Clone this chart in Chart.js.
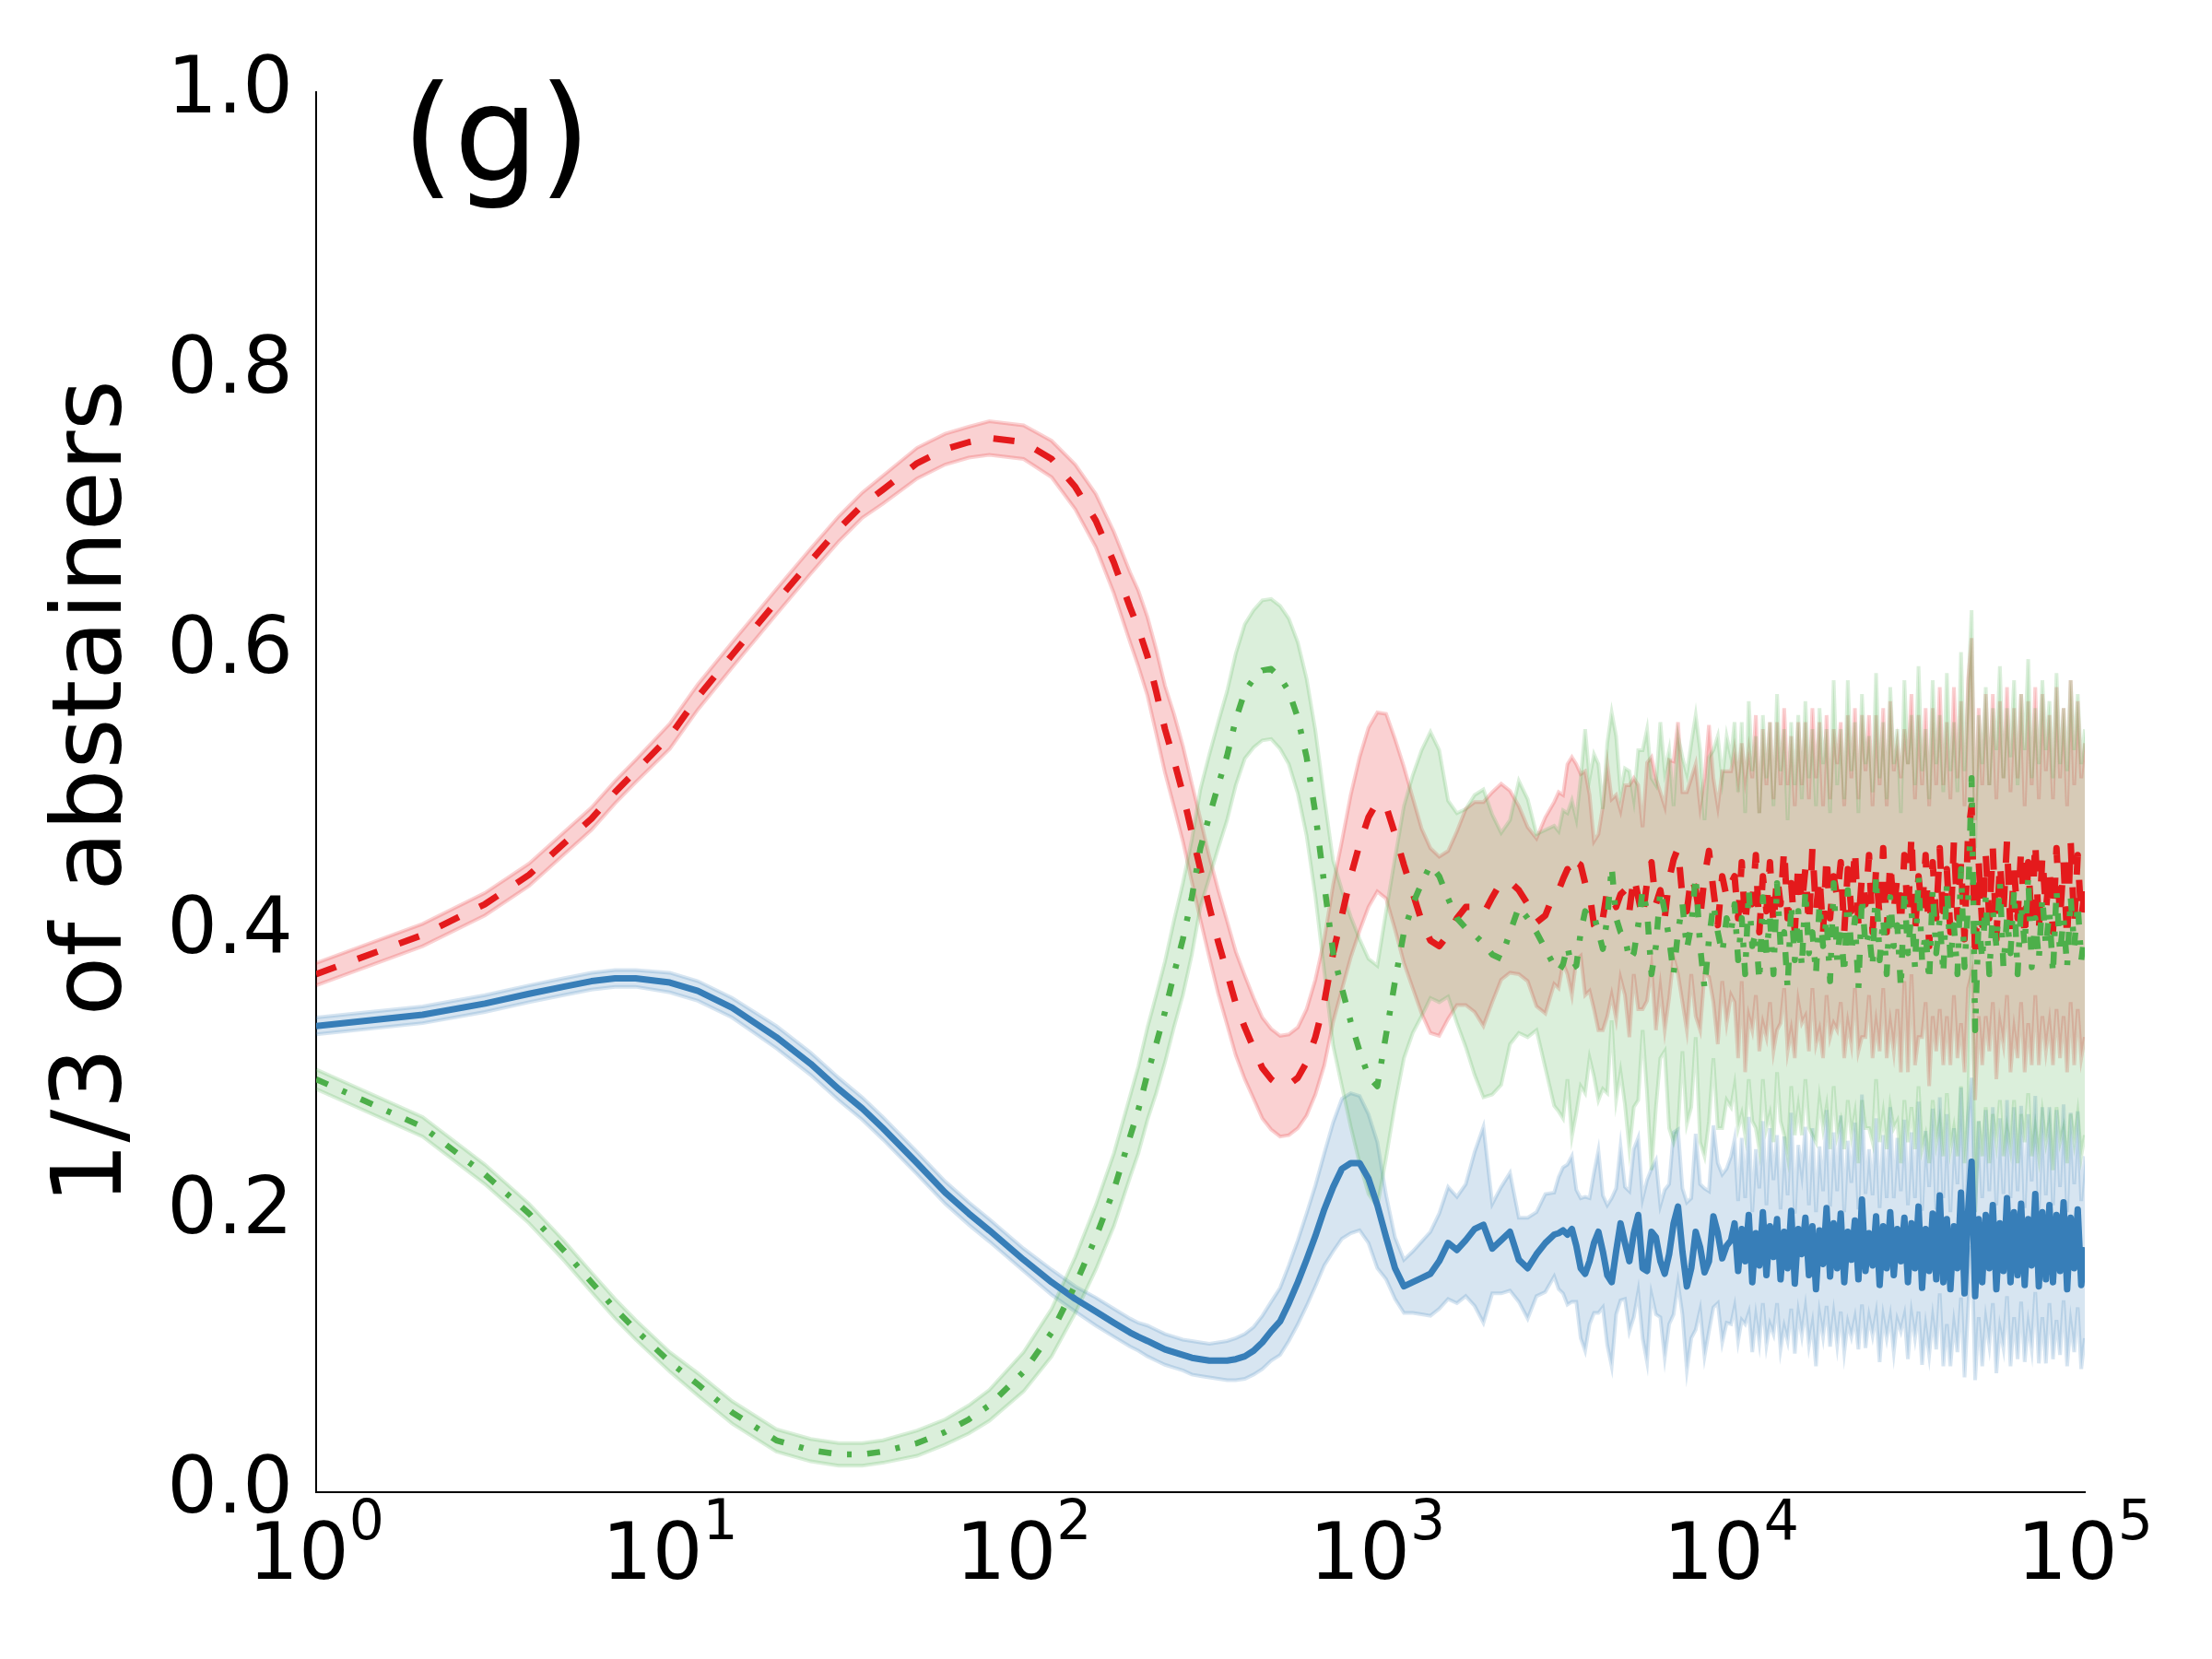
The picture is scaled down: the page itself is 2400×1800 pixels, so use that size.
<!DOCTYPE html>
<html lang="en">
<head>
  <meta charset="UTF-8">
  <title>1/3 of abstainers (g)</title>
  <style>
    body { margin: 0; background: #fff; }
    #wrap { width: 2400px; height: 1800px; }
  </style>
</head>
<body>
  <div id="wrap"><canvas id="chart" width="2400" height="1800"></canvas></div>

  <script src="https://cdn.jsdelivr.net/npm/chart.js"></script>
  <script>
    // time steps (x, log scale)
    const steps = [
      1, 2, 3, 4, 5, 6, 7, 8, 10, 12, 15, 20, 25, 30, 35, 40, 50, 60, 70, 80, 100, 120, 140, 160, 180,
      200, 211, 224, 237, 251, 266, 282, 299, 316, 335, 355, 376, 398, 422, 447, 473, 501, 531, 562, 596, 631, 668, 708, 750, 794, 841, 891, 944, 1000,
      1059, 1122, 1189, 1259, 1334, 1413, 1496, 1585, 1679, 1778, 1884, 1995, 2113, 2239, 2371, 2512, 2661, 2818, 2985, 3162,
      3255, 3350, 3447, 3548, 3652, 3758, 3868, 3981, 4097, 4217, 4340, 4467, 4597, 4732, 4870, 5012, 5158, 5309, 5464, 5623,
      5788, 5957, 6131, 6310, 6494, 6683, 6879, 7079, 7286, 7499, 7718, 7943, 8175, 8414, 8660, 8913, 9173, 9441, 9716,
      10000, 10230, 10470, 10720, 10960, 11220, 11480, 11750, 12020, 12300,
      12590, 12880, 13180, 13490, 13800, 14130, 14450, 14790, 15140, 15490,
      15850, 16220, 16600, 16980, 17380, 17780, 18200, 18620, 19050, 19500,
      19950, 20420, 20890, 21380, 21880, 22390, 22910, 23440, 23990, 24550,
      25120, 25700, 26300, 26920, 27540, 28180, 28840, 29510, 30200, 30900,
      31620, 32360, 33110, 33880, 34670, 35480, 36310, 37150, 38020, 38900,
      39810, 40740, 41690, 42660, 43650, 44670, 45710, 46770, 47860, 48980,
      50120, 51290, 52480, 53700, 54950, 56230, 57540, 58880, 60260, 61660,
      63100, 64570, 66070, 67610, 69180, 70790, 72440, 74130, 75860, 77620,
      79430, 81280, 83180, 85110, 87100, 89130, 91200, 93330, 95500, 97720,
      100000
    ];

    // blue (solid) mean and half-width of its band
    const blueMean = [
      0.333, 0.341, 0.349, 0.356, 0.361, 0.365, 0.367, 0.367, 0.364, 0.358, 0.346, 0.325, 0.306, 0.288, 0.274, 0.260, 0.235, 0.214, 0.199, 0.187, 0.166, 0.150, 0.138, 0.129, 0.121,
      0.114, 0.111, 0.108, 0.105, 0.102, 0.100, 0.098, 0.096, 0.095, 0.094, 0.094, 0.094, 0.095, 0.097, 0.101, 0.107, 0.115, 0.122, 0.135, 0.150, 0.166, 0.183, 0.202, 0.218, 0.231, 0.235, 0.235, 0.224, 0.205,
      0.182, 0.160, 0.147, 0.150, 0.153, 0.156, 0.165, 0.178, 0.173, 0.180, 0.188, 0.191, 0.174, 0.180, 0.186, 0.166, 0.160, 0.170, 0.178, 0.184,
      0.185, 0.187, 0.184, 0.188, 0.176, 0.160, 0.156, 0.165, 0.178, 0.186, 0.172, 0.155, 0.150, 0.172, 0.192, 0.178, 0.165, 0.185, 0.198, 0.160,
      0.158, 0.186, 0.182, 0.165, 0.156, 0.170, 0.192, 0.204, 0.172, 0.147, 0.160, 0.186, 0.175, 0.157, 0.165, 0.197, 0.185, 0.167, 0.176,
      0.180, 0.192, 0.158, 0.188, 0.165, 0.198, 0.150, 0.185, 0.162, 0.200,
      0.155, 0.190, 0.168, 0.195, 0.152, 0.186, 0.160, 0.201, 0.149, 0.188,
      0.170, 0.196, 0.155, 0.190, 0.145, 0.187, 0.163, 0.203, 0.154, 0.192,
      0.160, 0.199, 0.150, 0.186, 0.166, 0.194, 0.152, 0.209, 0.158, 0.185,
      0.162, 0.197, 0.148, 0.190, 0.160, 0.200, 0.155, 0.188, 0.165, 0.196,
      0.150, 0.192, 0.160, 0.204, 0.146, 0.188, 0.158, 0.199, 0.152, 0.212,
      0.150, 0.195, 0.145, 0.190, 0.160, 0.214, 0.142, 0.200, 0.236, 0.140,
      0.195, 0.150, 0.198, 0.160, 0.205, 0.145, 0.192, 0.158, 0.210, 0.150,
      0.200, 0.155, 0.206, 0.148, 0.195, 0.162, 0.213, 0.147, 0.200, 0.152,
      0.205, 0.150, 0.198, 0.158, 0.207, 0.145, 0.196, 0.160, 0.202, 0.148,
      0.175
    ];
    const blueSpread = [
      0.006, 0.006, 0.006, 0.006, 0.006, 0.006, 0.006, 0.006, 0.007, 0.007, 0.007, 0.008, 0.008, 0.008, 0.008, 0.008, 0.008, 0.008, 0.008, 0.008, 0.008, 0.009, 0.009, 0.010, 0.010,
      0.010, 0.010, 0.011, 0.011, 0.011, 0.011, 0.011, 0.012, 0.012, 0.012, 0.013, 0.014, 0.015, 0.016, 0.017, 0.019, 0.021, 0.024, 0.027, 0.030, 0.033, 0.036, 0.040, 0.046, 0.050, 0.050, 0.048, 0.046, 0.045,
      0.030, 0.022, 0.019, 0.022, 0.026, 0.030, 0.034, 0.040, 0.038, 0.040, 0.055, 0.070, 0.032, 0.038, 0.042, 0.030, 0.036, 0.030, 0.035, 0.030,
      0.040, 0.045, 0.050, 0.052, 0.040, 0.050, 0.055, 0.045, 0.050, 0.058, 0.040, 0.050, 0.060, 0.045, 0.055, 0.040, 0.050, 0.060, 0.055, 0.050,
      0.065, 0.045, 0.055, 0.040, 0.060, 0.050, 0.065, 0.055, 0.045, 0.060, 0.050, 0.070, 0.045, 0.060, 0.050, 0.065, 0.050, 0.060, 0.055,
      0.060, 0.060, 0.050, 0.065, 0.045, 0.070, 0.050, 0.060, 0.055, 0.065,
      0.050, 0.070, 0.055, 0.060, 0.050, 0.068, 0.052, 0.070, 0.050, 0.060,
      0.058, 0.065, 0.050, 0.070, 0.055, 0.060, 0.052, 0.070, 0.050, 0.065,
      0.055, 0.070, 0.050, 0.065, 0.055, 0.070, 0.050, 0.075, 0.055, 0.060,
      0.050, 0.070, 0.055, 0.065, 0.050, 0.075, 0.055, 0.065, 0.050, 0.070,
      0.055, 0.065, 0.050, 0.075, 0.055, 0.070, 0.060, 0.075, 0.050, 0.070,
      0.060, 0.075, 0.055, 0.070, 0.060, 0.075, 0.060, 0.070, 0.060, 0.060,
      0.070, 0.060, 0.075, 0.055, 0.070, 0.060, 0.075, 0.055, 0.070, 0.060,
      0.075, 0.060, 0.070, 0.055, 0.075, 0.060, 0.070, 0.055, 0.075, 0.060,
      0.070, 0.055, 0.075, 0.060, 0.070, 0.055, 0.075, 0.060, 0.070, 0.060,
      0.065
    ];

    // red (dashed)
    const redMean = [
      0.370, 0.398, 0.420, 0.441, 0.463, 0.481, 0.500, 0.515, 0.540, 0.568, 0.598, 0.636, 0.665, 0.688, 0.705, 0.716, 0.735, 0.745, 0.750, 0.753, 0.750, 0.738, 0.718, 0.694, 0.664,
      0.632, 0.617, 0.597, 0.572, 0.545, 0.523, 0.499, 0.471, 0.445, 0.418, 0.393, 0.371, 0.349, 0.332, 0.317, 0.303, 0.295, 0.290, 0.291, 0.296, 0.307, 0.325, 0.350, 0.385, 0.412, 0.440, 0.463, 0.482, 0.493,
      0.490, 0.470, 0.448, 0.428, 0.408, 0.394, 0.390, 0.398, 0.410, 0.418, 0.418, 0.413, 0.425, 0.436, 0.436, 0.430, 0.420, 0.407, 0.412, 0.428,
      0.430, 0.438, 0.445, 0.440, 0.450, 0.448, 0.435, 0.428, 0.405, 0.400, 0.410, 0.430, 0.425, 0.418, 0.427, 0.430, 0.415, 0.440, 0.425, 0.410,
      0.436, 0.450, 0.420, 0.430, 0.410, 0.438, 0.452, 0.460, 0.425, 0.415, 0.440, 0.430, 0.410, 0.440, 0.458, 0.430, 0.405, 0.440, 0.425,
      0.435, 0.440, 0.410, 0.450, 0.405, 0.435, 0.420, 0.455, 0.400, 0.440,
      0.415, 0.450, 0.405, 0.440, 0.420, 0.460, 0.410, 0.435, 0.400, 0.450,
      0.420, 0.445, 0.405, 0.460, 0.415, 0.440, 0.400, 0.455, 0.410, 0.440,
      0.425, 0.450, 0.400, 0.445, 0.415, 0.460, 0.405, 0.440, 0.420, 0.455,
      0.400, 0.445, 0.410, 0.460, 0.400, 0.450, 0.415, 0.440, 0.405, 0.455,
      0.410, 0.470, 0.400, 0.440, 0.415, 0.455, 0.390, 0.450, 0.410, 0.460,
      0.405, 0.445, 0.400, 0.465, 0.410, 0.450, 0.395, 0.470, 0.490, 0.380,
      0.450, 0.405, 0.455, 0.410, 0.460, 0.395, 0.450, 0.415, 0.465, 0.400,
      0.445, 0.410, 0.460, 0.395, 0.450, 0.405, 0.465, 0.400, 0.455, 0.415,
      0.445, 0.400, 0.460, 0.410, 0.450, 0.395, 0.465, 0.405, 0.455, 0.410,
      0.430
    ];
    const redSpread = [
      0.008, 0.008, 0.008, 0.008, 0.008, 0.008, 0.008, 0.008, 0.009, 0.009, 0.009, 0.009, 0.009, 0.009, 0.009, 0.010, 0.011, 0.011, 0.011, 0.012, 0.012, 0.013, 0.016, 0.019, 0.022,
      0.025, 0.027, 0.028, 0.030, 0.031, 0.033, 0.034, 0.035, 0.036, 0.036, 0.037, 0.037, 0.037, 0.037, 0.036, 0.036, 0.036, 0.036, 0.036, 0.036, 0.038, 0.041, 0.045, 0.049, 0.053, 0.058, 0.062, 0.064, 0.064,
      0.066, 0.068, 0.070, 0.068, 0.066, 0.066, 0.064, 0.060, 0.062, 0.070, 0.075, 0.080, 0.075, 0.070, 0.065, 0.060, 0.055, 0.060, 0.070, 0.065,
      0.070, 0.060, 0.075, 0.085, 0.070, 0.065, 0.080, 0.070, 0.060, 0.070, 0.080, 0.090, 0.070, 0.080, 0.060, 0.075, 0.090, 0.070, 0.080, 0.065,
      0.085, 0.075, 0.090, 0.070, 0.080, 0.085, 0.070, 0.090, 0.075, 0.085, 0.070, 0.090, 0.080, 0.070, 0.090, 0.080, 0.085, 0.075, 0.090,
      0.080, 0.090, 0.100, 0.085, 0.105, 0.095, 0.090, 0.100, 0.085, 0.105,
      0.090, 0.100, 0.090, 0.110, 0.085, 0.100, 0.095, 0.105, 0.090, 0.100,
      0.085, 0.105, 0.090, 0.100, 0.095, 0.110, 0.090, 0.100, 0.085, 0.105,
      0.095, 0.100, 0.090, 0.110, 0.095, 0.100, 0.090, 0.115, 0.095, 0.100,
      0.090, 0.110, 0.095, 0.100, 0.090, 0.115, 0.100, 0.095, 0.105, 0.090,
      0.110, 0.100, 0.095, 0.115, 0.090, 0.105, 0.100, 0.110, 0.095, 0.115,
      0.100, 0.105, 0.095, 0.110, 0.100, 0.115, 0.095, 0.110, 0.120, 0.100,
      0.110, 0.100, 0.115, 0.095, 0.110, 0.100, 0.115, 0.095, 0.110, 0.100,
      0.115, 0.100, 0.110, 0.095, 0.115, 0.100, 0.110, 0.095, 0.115, 0.100,
      0.110, 0.095, 0.115, 0.100, 0.110, 0.095, 0.115, 0.100, 0.110, 0.100,
      0.105
    ];

    // green (dash-dot)
    const greenMean = [
      0.295, 0.261, 0.227, 0.199, 0.173, 0.150, 0.131, 0.116, 0.093, 0.077, 0.057, 0.037, 0.030, 0.027, 0.027, 0.029, 0.035, 0.043, 0.052, 0.062, 0.086, 0.114, 0.148, 0.182, 0.216,
      0.254, 0.273, 0.299, 0.320, 0.343, 0.370, 0.395, 0.425, 0.460, 0.483, 0.505, 0.526, 0.552, 0.572, 0.581, 0.587, 0.588, 0.582, 0.572, 0.553, 0.525, 0.485, 0.434, 0.385, 0.360, 0.336, 0.315, 0.297, 0.290,
      0.327, 0.365, 0.400, 0.420, 0.435, 0.448, 0.440, 0.424, 0.410, 0.403, 0.398, 0.392, 0.384, 0.381, 0.400, 0.418, 0.410, 0.400, 0.388, 0.376,
      0.372, 0.377, 0.390, 0.374, 0.376, 0.400, 0.415, 0.410, 0.412, 0.400, 0.388, 0.410, 0.447, 0.410, 0.400, 0.397, 0.380, 0.385, 0.405, 0.430,
      0.415, 0.370, 0.390, 0.430, 0.415, 0.395, 0.370, 0.400, 0.420, 0.388, 0.405, 0.440, 0.390, 0.360, 0.395, 0.420, 0.400, 0.385, 0.410,
      0.400, 0.420, 0.380, 0.410, 0.370, 0.430, 0.390, 0.400, 0.365, 0.425,
      0.385, 0.410, 0.370, 0.435, 0.390, 0.400, 0.360, 0.420, 0.380, 0.415,
      0.375, 0.430, 0.385, 0.400, 0.370, 0.420, 0.390, 0.410, 0.365, 0.435,
      0.380, 0.405, 0.370, 0.430, 0.385, 0.410, 0.360, 0.425, 0.390, 0.400,
      0.375, 0.440, 0.380, 0.410, 0.370, 0.425, 0.390, 0.405, 0.360, 0.430,
      0.385, 0.415, 0.375, 0.440, 0.380, 0.400, 0.365, 0.430, 0.385, 0.410,
      0.370, 0.435, 0.380, 0.405, 0.370, 0.445, 0.375, 0.420, 0.510, 0.330,
      0.410, 0.380, 0.425, 0.370, 0.415, 0.390, 0.435, 0.375, 0.410, 0.385,
      0.430, 0.370, 0.420, 0.390, 0.440, 0.375, 0.410, 0.380, 0.425, 0.390,
      0.415, 0.370, 0.430, 0.385, 0.410, 0.375, 0.425, 0.390, 0.420, 0.380,
      0.400
    ];
    const greenSpread = [
      0.007, 0.007, 0.007, 0.007, 0.007, 0.007, 0.007, 0.007, 0.007, 0.008, 0.008, 0.008, 0.008, 0.008, 0.008, 0.008, 0.009, 0.009, 0.010, 0.011, 0.014, 0.017, 0.020, 0.023, 0.026,
      0.029, 0.031, 0.033, 0.035, 0.036, 0.038, 0.040, 0.041, 0.042, 0.044, 0.045, 0.046, 0.047, 0.048, 0.049, 0.050, 0.050, 0.051, 0.052, 0.054, 0.056, 0.059, 0.062, 0.066, 0.070, 0.075, 0.080, 0.084, 0.086,
      0.088, 0.088, 0.090, 0.092, 0.095, 0.095, 0.090, 0.070, 0.075, 0.085, 0.100, 0.110, 0.100, 0.090, 0.080, 0.090, 0.085, 0.070, 0.085, 0.100,
      0.100, 0.110, 0.095, 0.120, 0.105, 0.110, 0.130, 0.100, 0.115, 0.120, 0.100, 0.125, 0.110, 0.130, 0.100, 0.120, 0.135, 0.110, 0.125, 0.100,
      0.130, 0.140, 0.115, 0.120, 0.100, 0.135, 0.120, 0.140, 0.105, 0.125, 0.130, 0.115, 0.140, 0.120, 0.130, 0.110, 0.140, 0.125, 0.130,
      0.125, 0.130, 0.120, 0.140, 0.115, 0.135, 0.125, 0.140, 0.120, 0.130,
      0.125, 0.140, 0.120, 0.135, 0.125, 0.145, 0.120, 0.130, 0.125, 0.140,
      0.120, 0.135, 0.125, 0.145, 0.120, 0.140, 0.130, 0.135, 0.120, 0.145,
      0.125, 0.140, 0.125, 0.150, 0.130, 0.140, 0.125, 0.145, 0.130, 0.140,
      0.125, 0.145, 0.130, 0.140, 0.125, 0.150, 0.130, 0.140, 0.125, 0.150,
      0.135, 0.140, 0.130, 0.150, 0.135, 0.145, 0.130, 0.150, 0.135, 0.145,
      0.130, 0.150, 0.135, 0.145, 0.130, 0.155, 0.140, 0.150, 0.120, 0.130,
      0.145, 0.140, 0.150, 0.135, 0.145, 0.140, 0.155, 0.135, 0.150, 0.140,
      0.150, 0.135, 0.150, 0.140, 0.155, 0.135, 0.150, 0.140, 0.155, 0.140,
      0.150, 0.140, 0.155, 0.135, 0.150, 0.140, 0.155, 0.140, 0.150, 0.140,
      0.145
    ];

    const xTickValues = [1, 10, 100, 1000, 10000, 100000];
    const yLabel = '1/3 of abstainers';
    const panel = '(g)';

    const series = [
      { mean: blueMean, spread: blueSpread, rgb: '55,126,184', dash: [], width: 7, z: 2, bandZ: 5 },
      { mean: redMean, spread: redSpread, rgb: '228,26,28', dash: [23, 25], width: 7, z: 1, bandZ: 4 },
      { mean: greenMean, spread: greenSpread, rgb: '77,175,74', dash: [14, 17, 5, 17], width: 6.5, z: 0, bandZ: 3 }
    ];

    const datasets = [];
    series.forEach(s => {
      const lo = steps.map((t, i) => ({ x: t, y: s.mean[i] - s.spread[i] }));
      const hi = steps.map((t, i) => ({ x: t, y: s.mean[i] + s.spread[i] }));
      const edge = 'rgba(' + s.rgb + ',0.2)';
      datasets.push({ data: lo, borderColor: edge, borderWidth: 4, fill: false, order: s.bandZ });
      datasets.push({ data: hi, borderColor: edge, borderWidth: 4, backgroundColor: edge, fill: '-1', order: s.bandZ });
    });
    series.forEach(s => {
      datasets.push({
        data: steps.map((t, i) => ({ x: t, y: s.mean[i] })),
        borderColor: 'rgb(' + s.rgb + ')',
        borderWidth: s.width,
        borderDash: s.dash,
        borderCapStyle: 'butt',
        borderJoinStyle: 'round',
        fill: false,
        order: s.z
      });
    });

    // "(g)" panel letter
    const panelLabel = {
      id: 'panelLabel',
      afterDraw(chart) {
        const { ctx, chartArea } = chart;
        ctx.save();
        ctx.font = '145px "DejaVu Sans"';
        ctx.fillStyle = '#000';
        ctx.textBaseline = 'alphabetic';
        ctx.fillText(panel, chartArea.left + 93, chartArea.top + 96);
        ctx.restore();
      }
    };

    // 10^n labels with a real superscript, placed at the log axis ticks
    const powerLabels = {
      id: 'powerLabels',
      afterDraw(chart) {
        const { ctx } = chart;
        const xs = chart.scales.x;
        ctx.save();
        ctx.fillStyle = '#000';
        ctx.textBaseline = 'alphabetic';
        xs.ticks.forEach(tick => {
          const base = '10';
          const exp = String(Math.round(Math.log10(tick.value)));
          ctx.font = '86px "DejaVu Sans"';
          const wb = ctx.measureText(base).width;
          ctx.font = '60px "DejaVu Sans"';
          const we = ctx.measureText(exp).width;
          const left = xs.getPixelForValue(tick.value) - (wb + we) / 2;
          ctx.font = '86px "DejaVu Sans"';
          ctx.fillText(base, left, xs.top + 94);
          ctx.font = '60px "DejaVu Sans"';
          ctx.fillText(exp, left + wb, xs.top + 51);
        });
        ctx.restore();
      }
    };

    const tickFont = { family: '"DejaVu Sans"', size: 86 };

    new Chart(document.getElementById('chart').getContext('2d'), {
      type: 'line',
      data: { datasets },
      options: {
        responsive: false,
        animation: false,
        layout: { padding: { top: 100, right: 138, left: 0, bottom: 0 } },
        elements: { point: { radius: 0 }, line: { tension: 0 } },
        plugins: { legend: { display: false }, tooltip: { enabled: false } },
        scales: {
          x: {
            type: 'logarithmic',
            min: 1,
            max: 100000,
            afterBuildTicks: axis => { axis.ticks = xTickValues.map(v => ({ value: v })); },
            afterFit: axis => { axis.height = 181; },
            grid: { display: false, drawTicks: false },
            border: { display: true, color: '#000', width: 2 },
            ticks: { display: false }
          },
          y: {
            min: 0,
            max: 1,
            afterFit: axis => { axis.width = 343; },
            grid: { display: false, drawTicks: false },
            border: { display: true, color: '#000', width: 2 },
            ticks: {
              stepSize: 0.2,
              padding: 25,
              color: '#000',
              font: tickFont,
              callback: v => v.toFixed(1)
            },
            title: {
              display: true,
              text: yLabel,
              color: '#000',
              font: { family: '"DejaVu Sans"', size: 106 },
              padding: { top: 40, bottom: 0 }
            }
          }
        }
      },
      plugins: [panelLabel, powerLabels]
    });
  </script>
</body>
</html>
